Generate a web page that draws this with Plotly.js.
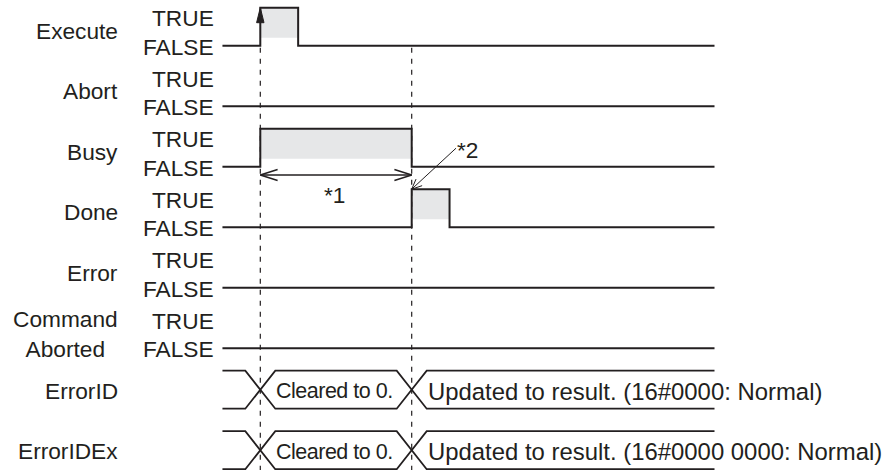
<!DOCTYPE html>
<html><head><meta charset="utf-8">
<script src="https://cdn.plot.ly/plotly-3.0.1.min.js"></script>
<style>html,body{margin:0;padding:0;background:#fff}</style>
</head><body><div id="chart" style="width:884px;height:470px"></div>
<script>
// ---------------- data ----------------
const signalNames = ["Execute", "Abort", "Busy", "Done", "Error", "Command<br>Aborted"];
const executeEdges = [0, 1];
const abortEdges = [];
const busyEdges = [0, 4];
const doneEdges = [4, 5];
const errorEdges = [];
const commandAbortedEdges = [];
const levelLabels = ["TRUE", "FALSE"];
const timeSpan = [-1, 12];
const busNames = ["ErrorID", "ErrorIDEx"];
const busChangeTimes = [0, 4];
const errorIdValues = ["Cleared to 0.", "Updated to result. (16#0000: Normal)"];
const errorIdExValues = ["Cleared to 0.", "Updated to result. (16#0000 0000: Normal)"];
const guideTimes = [0, 4];
const note1Span = [0, 4];
const note1Label = "*1";
const note2Label = "*2";

// ---------------- geometry / style ----------------
const W = 884, H = 470;
const PX_T0 = 260.3, PX_PER_T = 37.85;
const PY_ROW0 = 45.7, PY_PER_ROW = 60.5;
const HIGH = 38 / PY_PER_ROW;
const FILL = 30 / PY_PER_ROW;
const INK = "#231f20";
const GRAY = "#e6e7e8";
const FONT = "Liberation Sans, Arial, sans-serif";
const FS = 22.7;        // labels
const FS_BUS = 23.9;    // bus value text
const FS_BUS_SHORT = 21.5;
const dx = p => p / PX_PER_T;
const dy = p => p / PY_PER_ROW;
const pxX = t => PX_T0 + t * PX_PER_T;
const pxY = r => PY_ROW0 + r * PY_PER_ROW;
const tX = p => (p - PX_T0) / PX_PER_T;
const rY = p => (p - PY_ROW0) / PY_PER_ROW;

const xRange = [tX(0), tX(W)];
const yRange = [rY(H), rY(0)];

const traces = [];
const annotations = [];
const allEdges = [executeEdges, abortEdges, busyEdges, doneEdges, errorEdges, commandAbortedEdges];

function lineTrace(x, y, width, extra) {
  return Object.assign({type: "scatter", mode: "lines", x: x, y: y, hoverinfo: "skip",
    line: {color: INK, width: width}}, extra || {});
}
function txt(x, y, text, xanchor, size) {
  return {x: x, y: y, xref: "x", yref: "y", text: text, showarrow: false, borderpad: 0,
    xanchor: xanchor, yanchor: "middle", font: {family: FONT, size: size || FS, color: INK}};
}

// fills for high pulses
allEdges.forEach((edges, row) => {
  for (let i = 0; i + 1 < edges.length; i += 2) {
    const a = edges[i], b = edges[i + 1];
    const top = row - HIGH, bot = row - HIGH + FILL;
    traces.push({type: "scatter", mode: "lines", x: [a, b, b, a, a], y: [top, top, bot, bot, top],
      fill: "toself", fillcolor: GRAY, line: {width: 0, color: GRAY}, hoverinfo: "skip"});
  }
});

// dashed guides
guideTimes.forEach(t => {
  traces.push(lineTrace([t, t], [0 + dy(2), yRange[0]], 1.2, {line: {color: INK, width: 1.2, dash: "5px,6px"}}));
});

// waveforms
allEdges.forEach((edges, row) => {
  const x = [timeSpan[0]], y = [row];
  let level = 0;
  edges.forEach(e => {
    x.push(e); y.push(row - level * HIGH);
    level = 1 - level;
    x.push(e); y.push(row - level * HIGH);
  });
  x.push(timeSpan[1]); y.push(row - level * HIGH);
  traces.push(lineTrace(x, y, 2));
  const name = signalNames[row];
  const multi = name.indexOf("<br>") >= 0;
  annotations.push(txt(tX(118.5), row + dy(multi ? -14 : -15), name, "right"));
  annotations.push(txt(tX(214.5), row + dy(-27.4), levelLabels[0], "right"));
  annotations.push(txt(tX(214.5), row + dy(1), levelLabels[1], "right"));
});

// buses
const HW = dx(15);
[errorIdValues, errorIdExValues].forEach((vals, j) => {
  const row = signalNames.length + j;
  const top = row - HIGH, bot = row;
  [[top, bot], [bot, top]].forEach(([s, o]) => {
    const x = [timeSpan[0]], y = [s];
    let cur = s, other = o;
    busChangeTimes.forEach(c => {
      x.push(c - HW); y.push(cur);
      x.push(c + HW); y.push(other);
      const tmp = cur; cur = other; other = tmp;
    });
    x.push(timeSpan[1]); y.push(cur);
    traces.push(lineTrace(x, y, 1.8));
  });
  const mid = row - HIGH / 2;
  annotations.push(txt(tX(118.5), mid + dy(1), busNames[j], "right"));
  vals.forEach((v, k) => {
    const c = busChangeTimes[k];
    if (k + 1 < busChangeTimes.length) {
      annotations.push(txt((c + busChangeTimes[k + 1]) / 2 - dx(1.5), mid + dy(1.5),
        '<span style="letter-spacing:-0.5px">' + v + '</span>', "center", FS_BUS_SHORT));
    } else {
      annotations.push(txt(c + HW + dx(0.5), mid + dy(1.5), v, "left", FS_BUS));
    }
  });
});

// Execute rising-edge arrowhead (filled)
{
  const t = executeEdges[0], tip = 0 - HIGH;
  traces.push({type: "scatter", mode: "lines", x: [t - dx(3.7), t, t + dx(3.7), t - dx(3.7)],
    y: [tip + dy(15), tip, tip + dy(15), tip + dy(15)], fill: "toself", fillcolor: INK,
    line: {color: INK, width: 1}, hoverinfo: "skip"});
}

// *1 double arrow (open chevrons)
{
  const yA = 2 + dy(8.3);
  const a = note1Span[0], b = note1Span[1];
  traces.push(lineTrace([a, b], [yA, yA], 1.5));
  traces.push(lineTrace([a + dx(17.3), a, a + dx(17.3)], [yA - dy(5.5), yA, yA + dy(5.5)], 1.5));
  traces.push(lineTrace([b - dx(17.3), b, b - dx(17.3)], [yA - dy(5.5), yA, yA + dy(5.5)], 1.5));
  annotations.push(txt((a + b) / 2 - dx(1.5), 2 + dy(28.3), note1Label, "center"));
}

// *2 pointer to Done rising edge
{
  const tipT = doneEdges[0], tipR = 3 - HIGH;
  const tipPx = [pxX(tipT), pxY(tipR)];
  const tailPx = [tipPx[0] + 44.3, tipPx[1] - 41];
  const ux = tailPx[0] - tipPx[0], uy = tailPx[1] - tipPx[1];
  const L = Math.hypot(ux, uy), nx = ux / L, ny = uy / L;
  const ang = 24 * Math.PI / 180, arm = 11;
  const rot = (a) => [nx * Math.cos(a) - ny * Math.sin(a), nx * Math.sin(a) + ny * Math.cos(a)];
  const r1 = rot(ang), r2 = rot(-ang);
  traces.push(lineTrace([tX(tailPx[0]), tipT], [rY(tailPx[1]), tipR], 1));
  traces.push(lineTrace(
    [tX(tipPx[0] + r1[0] * arm), tipT, tX(tipPx[0] + r2[0] * arm)],
    [rY(tipPx[1] + r1[1] * arm), tipR, rY(tipPx[1] + r2[1] * arm)], 1));
  annotations.push(txt(tX(tipPx[0] + 56), rY(tipPx[1] - 39), note2Label, "center"));
}

const layout = {
  width: W, height: H, margin: {l: 0, r: 0, t: 0, b: 0},
  paper_bgcolor: "#fff", plot_bgcolor: "#fff", showlegend: false,
  xaxis: {range: xRange, visible: false, fixedrange: true},
  yaxis: {range: yRange, visible: false, fixedrange: true},
  annotations: annotations
};
Plotly.newPlot("chart", traces, layout, {displayModeBar: false, staticPlot: true});
</script></body></html>
